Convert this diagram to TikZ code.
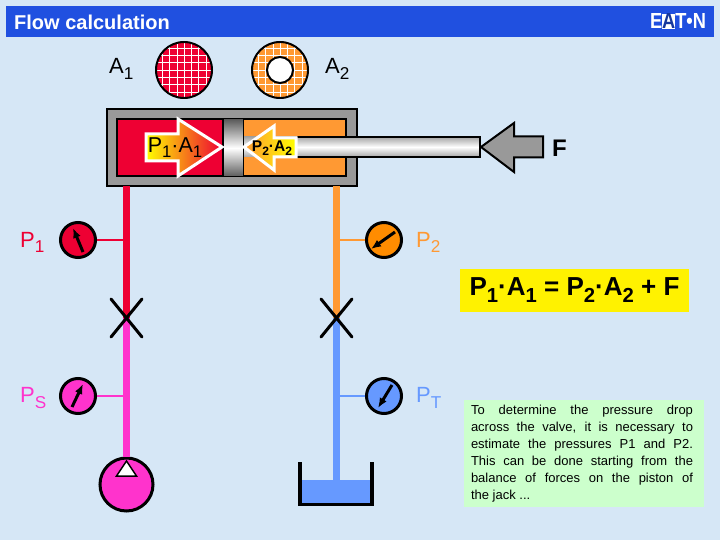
\documentclass[tikz,border=0pt]{standalone}
\usepackage{fontspec}
\usepackage{graphicx}
\setmainfont{Liberation Sans}
\usetikzlibrary{shapes.misc, arrows.meta}

\definecolor{bgblue}{HTML}{D6E7F6}
\definecolor{barblue}{HTML}{2050E0}
\definecolor{oilred}{HTML}{EE0033}
\definecolor{oilpink}{HTML}{FF33CC}
\definecolor{oilorange}{HTML}{FF9933}
\definecolor{oilblue}{HTML}{6699FF}
\definecolor{notegreen}{HTML}{CCFFCC}

\newcommand{\fsize}[1]{\fontsize{#1}{#1}\selectfont}
\newcommand{\idx}[1]{\raisebox{-0.45ex}{\scalebox{0.78}{#1}}}

\tikzset{
    pipe/.style={line width=7},
    branch/.style={line width=2.5},
    gauge/.style={circle, draw=black, line width=3, minimum size=35, inner sep=0},
    needle/.style={line width=3, -{Latex[length=10,width=8]}},
    valve/.style={cross out, draw=black, line width=3, line cap=round, minimum width=28, minimum height=35, inner sep=0},
    lbl/.style={font=\fsize{22}, inner sep=0, anchor=west},
    rim/.style={draw=black, line width=1.5}
}

\begin{document}
\begin{tikzpicture}[x=1pt, y=-1pt]
    \useasboundingbox (0,0) rectangle (720,540);
    \fill[bgblue] (0,0) rectangle (720,540);

    % Title bar
    \fill[barblue] (6,6) rectangle (714,37);
    \node[lbl, font=\fsize{20}\bfseries, white] (title) at (14,22) {Flow calculation};
    \node[inner sep=0, white] (logo) at (678,21.5) {\resizebox{56pt}{15pt}{\bfseries E{\fboxsep=0pt\colorbox{white}{\textcolor{barblue!70!black}{A}}}T•N}};

    % Areas
    \node[lbl] (areaone) at (109,69) {A\idx{1}};
    \node[lbl] (areatwo) at (325,69) {A\idx{2}};
    \fill[oilred] (184,70) circle (28);
    \fill[oilorange] (280,70) circle (28);
    \begin{scope}
        \clip (184,70) circle (28);
        \foreach \i in {-4,...,4} {
            \draw[white] (184+\i*7.3,40) -- (184+\i*7.3,100);
            \draw[white] (154,70+\i*7.3) -- (214,70+\i*7.3);
        }
    \end{scope}
    \begin{scope}
        \clip (280,70) circle (28);
        \foreach \i in {-4,...,4} {
            \draw[white] (280+\i*7.3,40) -- (280+\i*7.3,100);
            \draw[white] (250,70+\i*7.3) -- (310,70+\i*7.3);
        }
    \end{scope}
    \draw[black, line width=2] (184,70) circle (28);
    \draw[black, line width=2] (280,70) circle (28);
    \draw[black, line width=2, fill=white] (280,70) circle (13);

    % Cylinder
    \fill[gray!80, rim] (107,109) rectangle (357,186);
    \fill[oilred, rim] (117,119) rectangle (223,176);
    \fill[oilorange, rim] (243,119) rectangle (346,176);
    \shade[top color=gray!70, bottom color=gray!70, middle color=white] (243,137) rectangle (480,157);
    \draw[black, line width=1.5] (297,137) -- (480,137) -- (480,157) -- (297,157);
    \shade[top color=gray!70!black, bottom color=gray!70!black, middle color=white, draw=black, line width=1] (223,119) rectangle (243,177);

    % Forces
    \shade[left color=yellow, right color=oilred, draw=white, line width=3]
        (146,134) -- (178,134) -- (178,119) -- (222,147) -- (178,176) -- (178,161) -- (146,161) -- cycle;
    \node[font=\fsize{21.5}, inner sep=0] (forceone) at (175,148) {P\idx{1}·A\idx{1}};
    \shade[right color=yellow, left color=oilorange, draw=white, line width=3]
        (296,138) -- (274,138) -- (274,126) -- (244,147) -- (274,170) -- (274,157) -- (296,157) -- cycle;
    \node[font=\fsize{15.5}\bfseries, inner sep=0] (forcetwo) at (272,148) {P\idx{2}·A\idx{2}};
    \fill[gray!80, draw=black, line width=2]
        (543,136.5) -- (514,136.5) -- (514,123) -- (481,147) -- (514,172) -- (514,157.5) -- (543,157.5) -- cycle;
    \node[font=\fsize{24}\bfseries, inner sep=0] (force) at (559.5,148) {F};

    % Circuit points
    \coordinate (cylred) at (126.5,186);
    \coordinate (cylorange) at (336.5,186);
    \coordinate (valveleft) at (126.5,318);
    \coordinate (valveright) at (336.5,318);
    \coordinate (joinone) at (126.5,240);
    \coordinate (jointwo) at (336.5,240);
    \coordinate (joinpump) at (126.5,396);
    \coordinate (jointank) at (336.5,396);
    \coordinate (tanktop) at (336.5,481);

    % Pump and tank
    \node[circle, draw=black, line width=3, fill=oilpink, minimum size=53, inner sep=0] (pump) at (126.5,484.5) {};
    \fill[oilblue] (300,480) rectangle (372,504);
    \coordinate (tankleft) at (300,462);
    \coordinate (tankright) at (372,462);
    \draw[black, line width=3.5] (tankleft) -- (300,504.5) -- (372,504.5) -- (tankright);

    % Pipes
    \draw[pipe, oilred] (cylred) -- (valveleft);
    \draw[pipe, oilpink] (valveleft) -- (pump.north);
    \draw[pipe, oilorange] (cylorange) -- (valveright);
    \draw[pipe, oilblue] (valveright) -- (tanktop);
    \fill[white, draw=black, line width=1.5] (126.5,461) -- (136.5,476) -- (116.5,476) -- cycle;
    \node[valve] (vleft) at (valveleft) {};
    \node[valve] (vright) at (valveright) {};

    % Gauges
    \node[gauge, fill=oilred] (gone) at (78,240) {};
    \node[gauge, fill=oilpink] (gsupply) at (78,396) {};
    \node[gauge, fill=orange!90!yellow] (gtwo) at (384,240) {};
    \node[gauge, fill=oilblue] (gtank) at (384,396) {};
    \draw[branch, oilred] (gone) -- (joinone);
    \draw[branch, oilpink] (gsupply) -- (joinpump);
    \draw[branch, oilorange] (gtwo) -- (jointwo);
    \draw[branch, oilblue] (gtank) -- (jointank);
    \draw[needle] (83,252) -- (73,228);
    \draw[needle] (72,407) -- (83,384);
    \draw[needle] (395,232) -- (371,249);
    \draw[needle] (392,385) -- (378,408);

    \node[lbl, oilred] (pone) at (20,242.5) {P\idx{1}};
    \node[lbl, oilpink] (psupply) at (20,398) {P\idx{S}};
    \node[lbl, oilorange] (ptwo) at (416,242.5) {P\idx{2}};
    \node[lbl, oilblue] (ptank) at (416,398) {P\idx{T}};

    % Boxes
    \node[fill=yellow, minimum width=229, minimum height=43, inner sep=0, font=\fsize{26}\bfseries] (balance) at (574.5,290) {\raisebox{-2.5pt}{P\idx{1}·A\idx{1} = P\idx{2}·A\idx{2} + F}};
    \node[fill=notegreen, minimum width=240, minimum height=107, inner sep=0] (note) at (584,453.5) {%
        \hspace*{-4pt}\parbox{222pt}{\fontsize{13}{17}\selectfont
        To determine the pressure drop\linebreak
        across the valve, it is necessary to\linebreak
        estimate the pressures P1 and P2.\linebreak
        This can be done starting from the\linebreak
        balance of forces on the piston of\linebreak
        the jack ...}};
\end{tikzpicture}
\end{document}
